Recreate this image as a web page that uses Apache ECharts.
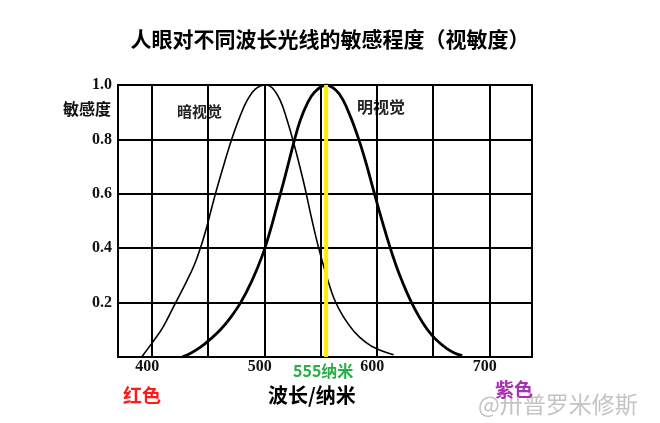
<!DOCTYPE html>
<html>
<head>
<meta charset="utf-8">
<script src="https://cdn.jsdelivr.net/npm/echarts@6/dist/echarts.min.js"></script>
<style>
html,body{margin:0;padding:0;background:#fff;}
#chart{width:660px;height:423px;}
</style>
</head>
<body>
<div id="chart"></div>
<script>
// ---- data ----
const titleText = '人眼对不同波长光线的敏感程度（视敏度）';
const xTickLabels = [400, 500, 600, 700];
const xGridValues = [400, 450, 500, 550, 600, 650, 700];
const yTickValues = [0.2, 0.4, 0.6, 0.8, 1.0];

// scotopic (暗视觉) curve
const scotX = [391, 400, 410, 420, 430, 438, 444, 449, 454, 459, 465, 471, 478, 485, 492, 501, 507, 514, 520, 526, 531, 536, 541, 546, 551, 556, 562, 570, 580, 590, 600, 615];
const scotY = [0.0, 0.05, 0.11, 0.19, 0.27, 0.34, 0.41, 0.48, 0.56, 0.635, 0.72, 0.8, 0.88, 0.945, 0.985, 1.0, 0.99, 0.945, 0.875, 0.79, 0.71, 0.625, 0.53, 0.44, 0.36, 0.29, 0.215, 0.15, 0.093, 0.055, 0.03, 0.008];

// photopic (明视觉) curve
const photX = [427, 435, 443, 452, 461, 470, 479, 489, 498, 505, 511, 517, 522, 527, 532, 538, 545, 555, 564, 570, 577, 584, 590, 596, 602, 608, 614, 620, 627, 634, 641, 648, 655, 662, 669, 676];
const photY = [0.0, 0.015, 0.035, 0.065, 0.1, 0.145, 0.2, 0.28, 0.37, 0.46, 0.55, 0.64, 0.72, 0.8, 0.87, 0.93, 0.975, 1.0, 0.98, 0.945, 0.88, 0.8, 0.72, 0.63, 0.54, 0.455, 0.375, 0.305, 0.235, 0.175, 0.125, 0.085, 0.055, 0.032, 0.015, 0.005];

const peakWavelength = 555;
const xMin = 370, xMax = 738;

const zip = (a, b) => a.map((v, i) => [v, b[i]]);

const chart = echarts.init(document.getElementById('chart'), null, {renderer: 'canvas'});
const serifFont = '"Liberation Serif", "DejaVu Serif", serif';
const cjkFont = '"Noto Sans CJK SC", "Noto Sans", sans-serif';

chart.setOption({
  backgroundColor: '#fff',
  animation: false,
  title: {
    text: titleText,
    left: 'center',
    top: 29,
    padding: 0,
    textStyle: {fontFamily: cjkFont, fontSize: 21, fontWeight: 'bold', color: '#000'}
  },
  grid: {
    left: 118, right: 128, top: 85, bottom: 66,
    show: true, borderColor: '#000', borderWidth: 2, backgroundColor: 'transparent'
  },
  xAxis: {
    type: 'value', min: xMin, max: xMax,
    axisLine: {show: false}, axisTick: {show: false}, splitLine: {show: false},
    axisLabel: {
      customValues: xTickLabels,
      margin: 2,
      padding: [0, 9, 0, 0],
      fontFamily: serifFont, fontSize: 16, fontWeight: 'bold', color: '#111'
    }
  },
  yAxis: {
    type: 'value', min: 0, max: 1, interval: 0.2,
    axisLine: {show: false}, axisTick: {show: false},
    splitLine: {show: true, lineStyle: {color: '#000', width: 2}},
    axisLabel: {
      margin: 6,
      formatter: v => (v === 0 ? '' : v.toFixed(1)),
      fontFamily: serifFont, fontSize: 16, fontWeight: 'bold', color: '#111'
    }
  },
  series: [
    {
      type: 'line', data: [], silent: true, z: 1,
      markLine: {
        silent: true, symbol: 'none', label: {show: false},
        lineStyle: {color: '#000', width: 2, type: 'solid'},
        data: xGridValues.map(v => ({xAxis: v}))
      }
    },
    {
      name: '暗视觉', type: 'line', data: zip(scotX, scotY),
      smooth: 0.4, showSymbol: false, z: 3,
      lineStyle: {color: '#000', width: 1.6}
    },
    {
      name: '明视觉', type: 'line', data: zip(photX, photY),
      smooth: 0.4, showSymbol: false, z: 3,
      lineStyle: {color: '#000', width: 2.8}
    },
    {
      name: '555', type: 'line', data: [[peakWavelength, 0], [peakWavelength, 1]],
      showSymbol: false, z: 5,
      lineStyle: {color: '#ffee00', width: 4}
    }
  ],
  graphic: [
    {type: 'text', left: 63, top: 101, style: {text: '敏感度', fontFamily: cjkFont, fontSize: 16, fontWeight: 'bold', fill: '#111'}},
    {type: 'text', left: 177, top: 104, style: {text: '暗视觉', fontFamily: cjkFont, fontSize: 15, fontWeight: 'bold', fill: '#222'}},
    {type: 'text', left: 357, top: 99, style: {text: '明视觉', fontFamily: cjkFont, fontSize: 16, fontWeight: 'bold', fill: '#222'}},
    {type: 'text', left: 293, top: 363, style: {text: '555纳米', fontFamily: cjkFont, fontSize: 16, fontWeight: 'bold', fill: '#2aae4a'}},
    {type: 'text', left: 123, top: 386, style: {text: '红色', fontFamily: cjkFont, fontSize: 19, fontWeight: 'bold', fill: '#ff1a1a'}},
    {type: 'text', left: 268, top: 385, style: {text: '波长/纳米', fontFamily: cjkFont, fontSize: 20, fontWeight: 'bold', fill: '#000'}},
    {type: 'text', left: 478, top: 393, z: 1, style: {text: '@卅普罗米修斯', fontFamily: cjkFont, fontSize: 23, fontWeight: 'normal', fill: '#c4c4c4'}},
    {type: 'text', left: 495, top: 380, z: 2, style: {text: '紫色', fontFamily: cjkFont, fontSize: 19, fontWeight: 'bold', fill: '#a82fb0'}}
  ]
});
</script>
</body>
</html>
